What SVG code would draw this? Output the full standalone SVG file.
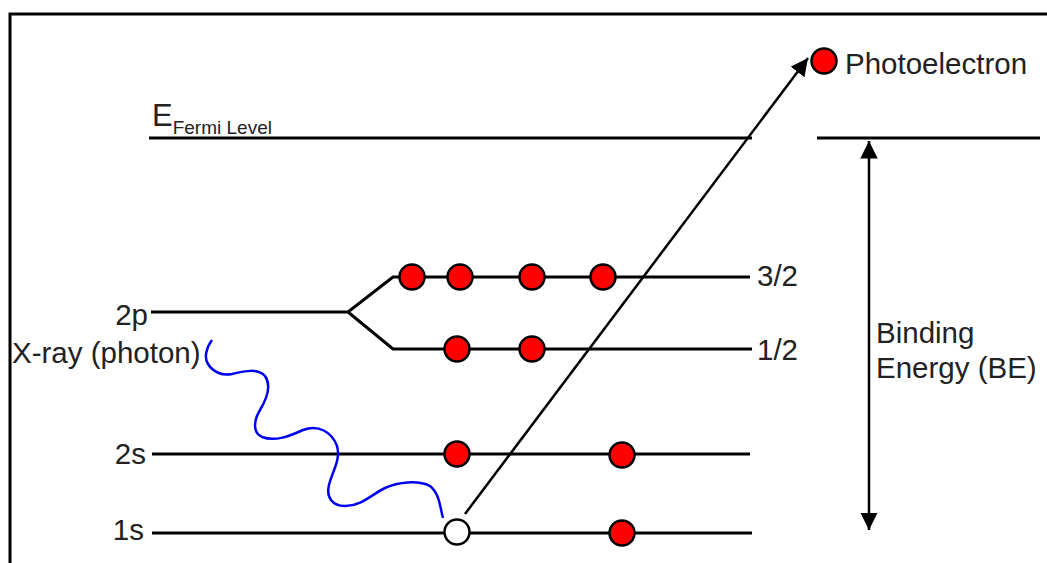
<svg xmlns="http://www.w3.org/2000/svg" width="1047" height="563" viewBox="0 0 1047 563">
<style>
.t{font-family:"Liberation Sans",Arial,sans-serif;font-size:29.5px;fill:#222}
.lv{stroke:#000;stroke-width:3;fill:none}
.e{fill:#f00;stroke:#000;stroke-width:2.5}
.h{fill:#fff;stroke:#000;stroke-width:2.5}
.ar{stroke:#000;stroke-width:2.5;fill:none}
</style>
<defs>
<marker id="ah2" viewBox="0 0 10 10" refX="10" refY="5" markerWidth="7" markerHeight="7" orient="auto-start-reverse">
<path d="M0,0 L10,5 L0,10 z" fill="#000"/>
</marker>
</defs>
<rect width="1047" height="563" fill="#fff"/>
<g id="frame">
<path d="M10,575 V14 H1060" class="lv"/>
</g>
<g id="fermi">
<line x1="149" y1="138" x2="752" y2="138" class="lv"/>
<line x1="817" y1="138" x2="1040" y2="138" class="lv"/>
<text x="152" y="126" class="t"><tspan font-size="31">E</tspan><tspan font-size="19" dy="8">Fermi Level</tspan></text>
</g>
<g id="level-2p">
<path d="M151,312 H348 L393,277 H750 M348,312 L393,349 H752" class="lv"/>
<text x="148" y="325" class="t" text-anchor="end">2p</text>
<text x="757" y="286" class="t">3/2</text>
<text x="757" y="360" class="t">1/2</text>
</g>
<g id="level-2s">
<line x1="152" y1="454" x2="750" y2="454" class="lv"/>
<text x="146" y="464" class="t" text-anchor="end">2s</text>
</g>
<g id="level-1s">
<line x1="152" y1="533" x2="752" y2="533" class="lv"/>
<text x="144" y="540" class="t" text-anchor="end">1s</text>
</g>
<g id="electrons">
<circle cx="412" cy="277" r="12.5" class="e"/>
<circle cx="460" cy="277" r="12.5" class="e"/>
<circle cx="532" cy="277" r="12.5" class="e"/>
<circle cx="603" cy="277" r="12.5" class="e"/>
<circle cx="457" cy="349" r="12.5" class="e"/>
<circle cx="532" cy="349" r="12.5" class="e"/>
<circle cx="457" cy="454" r="12.5" class="e"/>
<circle cx="622" cy="455" r="12.5" class="e"/>
<circle cx="457" cy="532" r="12.5" class="h"/>
<circle cx="622" cy="533" r="12.5" class="e"/>
</g>
<g id="photoelectron">
<circle cx="824" cy="61" r="12.5" class="e"/>
<text x="845" y="74" class="t">Photoelectron</text>
</g>
<g id="xray">
<text x="12" y="363" class="t">X-ray (photon)</text>
<path d="M212,340 C206,348 204,358 208,364 C213,372 222,376 232,374 C245,371 258,368 265,376 C272,386 266,400 260,410 C254,420 252,432 262,437 C275,442 290,436 303,430 C318,424 332,432 337,446 C341,460 332,472 329,485 C326,497 332,506 345,506 C362,506 372,494 385,488 C398,482 418,480 430,486 C440,494 440,508 443,518" stroke="#0000f0" stroke-width="2.5" fill="none"/>
</g>
<g id="connectors">
<line x1="465" y1="514" x2="808" y2="58" class="ar" marker-end="url(#ah2)"/>
<line x1="869" y1="141" x2="869" y2="530" class="ar" marker-start="url(#ah2)" marker-end="url(#ah2)"/>
</g>
<g id="be-label">
<text x="876" y="343" class="t">Binding</text>
<text x="876" y="378" class="t">Energy (BE)</text>
</g>
</svg>
